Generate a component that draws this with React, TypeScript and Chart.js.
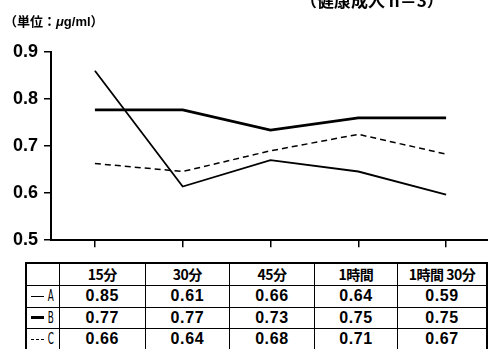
import React, { useEffect, useRef } from "react";
import { Chart, registerables } from "chart.js";

Chart.register(...registerables);

const categories = ["15分", "30分", "45分", "1時間", "1時間 30分"];
const plotA = [0.86, 0.614, 0.67, 0.646, 0.597];
const plotB = [0.777, 0.777, 0.734, 0.76, 0.76];
const plotC = [0.663, 0.646, 0.69, 0.725, 0.683];
const tableA = ["0.85", "0.61", "0.66", "0.64", "0.59"];
const tableB = ["0.77", "0.77", "0.73", "0.75", "0.75"];
const tableC = ["0.66", "0.64", "0.68", "0.71", "0.67"];
const yTicks = [0.5, 0.6, 0.7, 0.8, 0.9];
const unitLabel = "（単位：";
const unitRest = "g/ml）";
const subjectLabel = "（健康成人 n＝3）";

const FONT = "'Liberation Sans', Arial, sans-serif";
const CJK = "'Noto Sans CJK JP', 'Liberation Sans', sans-serif";

function RowLabel({ kind, letter }: { kind: "thin" | "thick" | "dash"; letter: string }) {
  const border =
    kind === "thin" ? "1.5px solid #000" : kind === "thick" ? "3px solid #000" : "1.5px dashed #000";
  return (
    <div style={{ display: "flex", alignItems: "center", justifyContent: "center", height: "100%" }}>
      <span style={{ display: "inline-block", width: 13, borderTop: border, marginRight: 2 }} />
      <span
        style={{
          display: "inline-block",
          fontFamily: "'DejaVu Sans', sans-serif",
          fontWeight: "normal",
          fontSize: 16,
          transform: "scaleX(0.55)",
          width: 8,
          lineHeight: 1,
        }}
      >
        {letter}
      </span>
    </div>
  );
}

export default function App() {
  const ref = useRef<HTMLCanvasElement | null>(null);

  useEffect(() => {
    if (!ref.current) return;
    const chart = new Chart(ref.current, {
      type: "line",
      data: {
        labels: categories,
        datasets: [
          { label: "A", data: plotA, borderColor: "#000", borderWidth: 1.8, pointRadius: 0, tension: 0, fill: false },
          { label: "B", data: plotB, borderColor: "#000", borderWidth: 2.8, pointRadius: 0, tension: 0, fill: false },
          {
            label: "C",
            data: plotC,
            borderColor: "#000",
            borderWidth: 1.5,
            borderDash: [6, 4],
            pointRadius: 0,
            tension: 0,
            fill: false,
          },
        ],
      },
      options: {
        responsive: false,
        animation: false,
        layout: { padding: { top: 52, left: 0, right: 0, bottom: 0 } },
        plugins: { legend: { display: false }, tooltip: { enabled: false }, title: { display: false } },
        scales: {
          x: {
            type: "category",
            offset: true,
            grid: { display: true, drawOnChartArea: false, drawTicks: true, tickLength: 7, color: "#000", lineWidth: 1.5, offset: false },
            border: { display: true, color: "#000", width: 2 },
            ticks: { display: false },
            afterFit: (s: any) => {
              s.height = 10;
            },
          },
          y: {
            min: 0.5,
            max: 0.9,
            afterBuildTicks: (s: any) => {
              s.ticks = yTicks.map((v) => ({ value: v }));
            },
            grid: { display: true, drawOnChartArea: false, drawTicks: true, tickLength: 7, color: "#000", lineWidth: 1.5 },
            border: { display: true, color: "#000", width: 2 },
            ticks: {
              color: "#000",
              padding: 6,
              font: { family: FONT, size: 18, weight: "bold" },
              callback: (v: any) => Number(v).toFixed(1),
            },
            afterFit: (s: any) => {
              s.width = 51;
            },
          },
        },
      },
    });
    return () => chart.destroy();
  }, []);

  const colW = [32, 86, 84, 85, 83, 89];
  const rowH = [22, 22, 21, 22];
  const cell = (i: number, extra: any = {}) => ({
    width: colW[i],
    borderLeft: i === 0 ? "2px solid #000" : "1px solid #000",
    borderRight: i === colW.length - 1 ? "2px solid #000" : undefined,
    padding: 0,
    textAlign: "center" as const,
    ...extra,
  });
  const rows = [
    { kind: "thin" as const, letter: "A", vals: tableA },
    { kind: "thick" as const, letter: "B", vals: tableB },
    { kind: "dash" as const, letter: "C", vals: tableC },
  ];

  return (
    <div
      style={{
        position: "fixed",
        left: 0,
        top: 0,
        width: 488,
        height: 349,
        overflow: "hidden",
        background: "#fff",
        color: "#000",
      }}
    >
      <canvas ref={ref} width={490} height={257} style={{ position: "absolute", left: 0, top: 0 }} />
      <div
        style={{
          position: "absolute",
          left: 4,
          top: 13,
          fontFamily: CJK,
          fontWeight: "bold",
          fontSize: 13,
          lineHeight: "16px",
          whiteSpace: "nowrap",
        }}
      >
        {unitLabel}
        <i style={{ fontFamily: FONT }}>μ</i>
        <span style={{ fontFamily: FONT }}>{unitRest.slice(0, 4)}</span>
        {unitRest.slice(4)}
      </div>
      <div
        style={{
          position: "absolute",
          left: 300,
          top: -9,
          fontFamily: CJK,
          fontWeight: "bold",
          fontSize: 17,
          lineHeight: "18px",
          whiteSpace: "nowrap",
        }}
      >
        {subjectLabel}
      </div>
      <table
        style={{
          position: "absolute",
          left: 25,
          top: 262,
          borderCollapse: "collapse",
          tableLayout: "fixed",
          borderTop: "2px solid #000",
          fontFamily: FONT,
          fontWeight: "bold",
          fontSize: 16,
        }}
      >
        <tbody>
          <tr style={{ height: rowH[0], borderBottom: "1px solid #000" }}>
            <td style={cell(0)} />
            {categories.map((c, i) => (
              <td key={c} style={cell(i + 1, { fontFamily: CJK, fontSize: 14, letterSpacing: -0.5 })}>
                {c}
              </td>
            ))}
          </tr>
          {rows.map((r, ri) => (
            <tr key={r.letter} style={{ height: rowH[ri + 1], borderBottom: ri < 2 ? "1px solid #000" : undefined }}>
              <td style={cell(0)}>
                <RowLabel kind={r.kind} letter={r.letter} />
              </td>
              {r.vals.map((v, i) => (
                <td key={i} style={cell(i + 1, { letterSpacing: 0.6 })}>
                  {v}
                </td>
              ))}
            </tr>
          ))}
        </tbody>
      </table>
    </div>
  );
}
